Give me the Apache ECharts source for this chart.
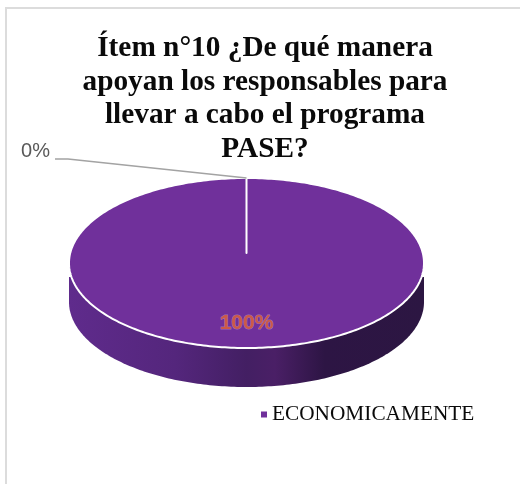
<!DOCTYPE html>
<html><head><meta charset="utf-8">
<style>html,body{margin:0;padding:0;background:#fff}#c{width:520px;height:484px}</style>
<script src="https://cdn.jsdelivr.net/npm/echarts@6/dist/echarts.min.js"></script>
</head><body><div id="c"></div>
<script>
var titleLines = ['Ítem n°10 ¿De qué manera','apoyan los responsables para','llevar a cabo el programa','PASE?'];
var categories = ['ECONOMICAMENTE','OTROS'];
var values = [100, 0];
var percentLabels = ['100%','0%'];

var chart = echarts.init(document.getElementById('c'), null, {renderer:'canvas'});
var total = values.reduce(function(a,b){return a+b;},0);
var CX=246.5, CY=263, RX=177.5, RY=85, DEPTH=39;
function pt(a,dy){return [CX+RX*Math.cos(a), CY+RY*Math.sin(a)+(dy||0)];}

function renderItem(params, api){
  var i = params.dataIndex, before = 0;
  for (var k=0;k<i;k++) before += values[k];
  var v = api.value(1);
  var a0 = -Math.PI/2 + before/total*2*Math.PI;
  var a1 = a0 + v/total*2*Math.PI;
  var kids = [];
  if (v > 0) {
    var side = [[CX+RX,CY+14]], top = [], n = 180, s;
    for (s=0;s<=n;s++) side.push(pt(Math.PI*s/n, DEPTH));
    side.push([CX-RX,CY+14]);
    kids.push({type:'polygon', shape:{points:side}, style:{
      fill:new echarts.graphic.LinearGradient(0,0,1,0,[
        {offset:0,color:'#5f2b8c'},
        {offset:0.3,color:'#54267c'},
        {offset:0.5,color:'#431f63'},
        {offset:0.58,color:'#4a1f66'},
        {offset:0.72,color:'#2d1544'},
        {offset:1,color:'#2c1642'}
      ])}, z2:1});
    for (s=0;s<=360;s++) top.push(pt(a0+(a1-a0)*s/360));
    top.push([CX,CY-10]);
    kids.push({type:'polygon', shape:{points:top}, style:{fill:api.visual('color'), stroke:'#fff', lineWidth:2, lineJoin:'round'}, z2:2});
    kids.push({type:'text', x:CX, y:323, style:{text:percentLabels[i], fill:'#cc5a48', stroke:'rgba(255,255,255,0.3)', lineWidth:1,
      font:'bold 21px "Liberation Sans"', align:'center', verticalAlign:'middle'}, z2:5});
  } else {
    var p = pt(a0);
    kids.push({type:'polyline', shape:{points:[[55,159],[68,159],p]}, style:{fill:'none', stroke:'#a3a3a3', lineWidth:1.7}, z2:4});
    kids.push({type:'text', x:35.5, y:151, style:{text:percentLabels[i], fill:'#595959',
      font:'20px "Liberation Sans"', align:'center', verticalAlign:'middle'}, z2:5});
  }
  return {type:'group', children:kids};
}

chart.setOption({
  animation:false,
  backgroundColor:'#fff',
  title:{
    text:titleLines.join('\n'), left:260, top:27, textAlign:'center',
    textStyle:{fontFamily:'Liberation Serif', fontWeight:'bold', fontSize:29.3, lineHeight:33.5, color:'#0a0a0a'}
  },
  legend:{
    data:[{name:categories[0], icon:'rect'}], left:256, top:399, itemWidth:6, itemHeight:6, itemGap:6, selectedMode:false,
    textStyle:{fontFamily:'Liberation Serif', fontSize:21.3, color:'#0a0a0a'}
  },
  graphic:[{type:'polyline', silent:true, z:-1, shape:{points:[[6,484],[6,8],[520,8]]}, style:{fill:'none', stroke:'#dcdcdc', lineWidth:2}}],
  series:[{
    type:'custom', name:categories[0], coordinateSystem:'none',
    itemStyle:{color:'#70309b'}, renderItem:renderItem,
    data:values.map(function(v,i){return {name:categories[i], value:[i,v]};})
  }]
});
</script></body></html>
